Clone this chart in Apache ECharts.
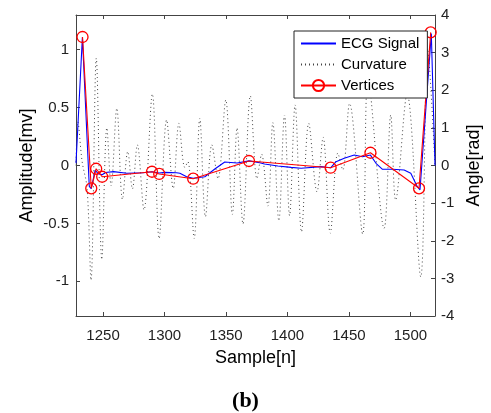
<!DOCTYPE html>
<html>
<head>
<meta charset="utf-8">
<script src="https://cdn.jsdelivr.net/npm/echarts@6/dist/echarts.min.js"></script>
<style>html,body{margin:0;padding:0;background:#fff}#c{width:491px;height:413px}</style>
</head>
<body>
<div id="c"></div>
<script>
// ECG signal (Amplitude [mv], left axis)
var ecgX = [1228, 1233.2, 1238.8, 1240.4, 1243.6, 1246, 1249.3, 1252, 1258.5, 1269.3, 1282.8, 1289.8, 1295.7, 1300.4, 1309.8, 1312.5, 1318, 1323.3, 1332.8, 1340.9, 1349, 1359, 1368.7, 1377.4, 1381.4, 1392.2, 1403, 1411.1, 1427.3, 1435.1, 1439.5, 1446.2, 1454.3, 1461, 1467.5, 1472, 1477.3, 1485.4, 1494.9, 1500.3, 1505.6, 1507.8, 1517, 1520];
var ecgY = [0.02, 1.11, -0.18, -0.2, -0.04, -0.07, -0.08, -0.06, -0.053, -0.067, -0.062, -0.054, -0.065, -0.059, -0.062, -0.067, -0.097, -0.11, -0.097, -0.03, 0.03, 0.022, 0.04, 0.024, 0.013, -0.004, -0.016, -0.024, -0.01, -0.02, 0.033, 0.062, 0.09, 0.076, 0.09, 0.019, -0.033, -0.033, -0.039, -0.067, -0.183, -0.21, 1.14, 0.0];
// Curvature (Angle [rad], right axis)
var curvX = [1228, 1229.5, 1233, 1237, 1240.2, 1244.5, 1249, 1253.1, 1256.6, 1261.2, 1265.8, 1270.1, 1273.9, 1277.9, 1283.3, 1290.1, 1295.6, 1301.7, 1307.1, 1311.7, 1316.5, 1319, 1324.1, 1328.7, 1333.3, 1338.5, 1343.5, 1349.8, 1355.2, 1359, 1363.8, 1369.8, 1375.2, 1379, 1384.1, 1388.1, 1393, 1397.6, 1401.7, 1406.2, 1411.4, 1417.3, 1424, 1429, 1434.8, 1441, 1445, 1450.5, 1461.2, 1465.5, 1478.6, 1484, 1488, 1497.3, 1508.4, 1514, 1520];
var curvY = [0.0, 1.16, 0.1, -0.6, -3.05, 2.85, -2.5, 1.0, -0.54, 1.52, -0.9, 0.37, -0.62, 0.55, -1.18, 1.9, -1.94, 1.21, -0.61, 1.12, -0.05, 0.1, -1.94, 1.25, -1.36, 0.55, -0.35, 1.74, -1.3, 1.0, -1.55, 1.85, -0.35, 0.3, -1.08, 1.14, -1.47, 1.34, -1.33, 1.61, -1.76, 1.12, -0.7, 0.75, -1.8, 0.33, -0.12, 1.65, -1.82, 2.3, -1.67, 1.34, -0.92, 1.9, -2.96, 3.1, 0.0];
// Vertices (left axis)
var vertX = [1233.3, 1240.4, 1244.4, 1249.3, 1289.8, 1295.7, 1323.3, 1368.7, 1435.1, 1467.5, 1507, 1516.5];
var vertY = [1.11, -0.197, -0.028, -0.097, -0.054, -0.073, -0.114, 0.039, -0.019, 0.11, -0.197, 1.15];
// Tick labels
var xTicks = [1250, 1300, 1350, 1400, 1450, 1500];
var yLeftTicks = [-1, -0.5, 0, 0.5, 1];

function pairs(xs, ys) { return xs.map(function (x, i) { return [x, ys[i]]; }); }

var font = 'Liberation Sans';
var axisCol = '#444';
var noSym = {color: 'rgba(0,0,0,0)', borderColor: 'rgba(0,0,0,0)', borderWidth: 0};
var chart = echarts.init(document.getElementById('c'), null, {renderer: 'canvas'});
chart.setOption({
  animation: false,
  backgroundColor: '#fff',
  textStyle: {fontFamily: font},
  grid: {left: 76, right: 54, top: 15, bottom: 97, containLabel: false},
  legend: {
    orient: 'vertical', left: 294, top: 31, width: 134,
    padding: [5, 8, 5, 6], itemGap: 6, itemWidth: 35, itemHeight: 14,
    backgroundColor: '#fff', borderColor: '#222', borderWidth: 1,
    textStyle: {fontFamily: font, fontSize: 15, color: '#000'},
    data: [
      {name: 'ECG Signal', itemStyle: noSym},
      {name: 'Curvature', itemStyle: noSym},
      {name: 'Vertices'}
    ]
  },
  xAxis: [{
    type: 'value', min: 1228, max: 1520, splitNumber: 6,
    name: 'Sample[n]', nameLocation: 'middle', nameGap: 33, nameMoveOverlap: false,
    nameTextStyle: {fontFamily: font, fontSize: 18, color: '#000'},
    axisLine: {show: true, onZero: false, lineStyle: {color: axisCol, width: 1}},
    axisTick: {show: true, inside: true, length: 4, lineStyle: {color: axisCol}},
    axisLabel: {fontFamily: font, fontSize: 15, color: '#222', margin: 12, showMinLabel: false, showMaxLabel: false,
      formatter: function (v) { return xTicks.indexOf(v) >= 0 ? String(v) : ''; }},
    splitLine: {show: false}
  }, {
    type: 'value', min: 1228, max: 1520, splitNumber: 6, position: 'top',
    axisLine: {show: true, onZero: false, lineStyle: {color: axisCol, width: 1}},
    axisTick: {show: true, inside: true, length: 4, lineStyle: {color: axisCol}},
    axisLabel: {show: false}, splitLine: {show: false}
  }],
  yAxis: [{
    type: 'value', min: -1.3, max: 1.3, splitNumber: 5, position: 'left',
    name: 'Amplitude[mv]', nameLocation: 'middle', nameGap: 40, nameRotate: 90, nameMoveOverlap: false,
    nameTextStyle: {fontFamily: font, fontSize: 18, color: '#000'},
    axisLine: {show: true, onZero: false, lineStyle: {color: axisCol, width: 1}},
    axisTick: {show: true, inside: true, length: 4, lineStyle: {color: axisCol}},
    axisLabel: {fontFamily: font, fontSize: 15, color: '#222', margin: 7, showMinLabel: false, showMaxLabel: false,
      formatter: function (v) { return yLeftTicks.indexOf(v) >= 0 ? String(v) : ''; }},
    splitLine: {show: false}
  }, {
    type: 'value', min: -4, max: 4, interval: 1, position: 'right',
    name: 'Angle[rad]', nameLocation: 'middle', nameGap: 30, nameRotate: 90, nameMoveOverlap: false,
    nameTextStyle: {fontFamily: font, fontSize: 18, color: '#000'},
    axisLine: {show: true, onZero: false, lineStyle: {color: axisCol, width: 1}},
    axisTick: {show: true, inside: true, length: 4, lineStyle: {color: axisCol}},
    axisLabel: {fontFamily: font, fontSize: 15, color: '#222', margin: 6},
    splitLine: {show: false}
  }],
  series: [{
    name: 'Curvature', type: 'line', yAxisIndex: 1, data: pairs(curvX, curvY),
    symbol: 'none', smooth: 0.35, z: 1,
    lineStyle: {color: '#444', width: 1, type: [1, 3]},
    itemStyle: {color: '#444'}
  }, {
    name: 'ECG Signal', type: 'line', yAxisIndex: 0, data: pairs(ecgX, ecgY),
    symbol: 'none', z: 2,
    lineStyle: {color: '#0000ff', width: 1.1},
    itemStyle: {color: '#0000ff'}
  }, {
    name: 'Vertices', type: 'line', yAxisIndex: 0, data: pairs(vertX, vertY),
    symbol: 'circle', symbolSize: 11, z: 3,
    lineStyle: {color: '#ff0000', width: 1.1},
    itemStyle: {color: 'rgba(255,255,255,0)', borderColor: '#ff0000', borderWidth: 1.3}
  }],
  graphic: [{
    type: 'text', left: 'center', top: 390,
    style: {text: '(b)', font: 'bold 22px "Liberation Serif"', fill: '#000'}
  }]
});
</script>
</body>
</html>
